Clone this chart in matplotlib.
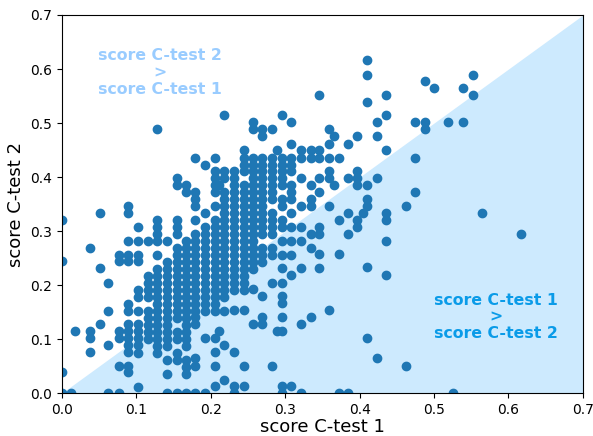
import numpy as np
import matplotlib
matplotlib.use('Agg')
import matplotlib.pyplot as plt

# score C-test 1 levels (columns) and the C-test 2 scores seen at each level
ctest1_levels = [0.000, 0.012, 0.018, 0.037, 0.051, 0.062, 0.076, 0.089, 0.102, 0.115,
                 0.128, 0.141, 0.154, 0.166, 0.179, 0.192, 0.205, 0.211, 0.218, 0.231,
                 0.244, 0.257, 0.269, 0.282, 0.289, 0.295, 0.308, 0.321, 0.334, 0.346,
                 0.359, 0.366, 0.372, 0.385, 0.397, 0.404, 0.410, 0.423, 0.436, 0.462,
                 0.475, 0.488, 0.500, 0.519, 0.526, 0.539, 0.552, 0.565, 0.617]

ctest2_by_level = [
    [0.320, 0.244, 0.038, 0.0],
    [0.0],
    [0.115],
    [0.269, 0.115, 0.102, 0.076],
    [0.334, 0.231, 0.128],
    [0.204, 0.152, 0.089, 0.0],
    [0.256, 0.244, 0.115, 0.102, 0.050, 0.0],
    [0.347, 0.334, 0.282, 0.256, 0.244, 0.165, 0.152, 0.128, 0.115, 0.102, 0.089, 0.076,
     0.050, 0.038],
    [0.308, 0.282, 0.256, 0.244, 0.191, 0.178, 0.152, 0.128, 0.115, 0.102, 0.089, 0.074,
     0.012],
    [0.282, 0.217, 0.204, 0.191, 0.178, 0.152, 0.139, 0.126, 0.113, 0.100],
    [0.488, 0.320, 0.307, 0.294, 0.282, 0.256, 0.230, 0.217, 0.204, 0.191, 0.178, 0.165,
     0.152, 0.139, 0.126, 0.113, 0.100, 0.087, 0.074],
    [0.282, 0.243, 0.230, 0.217, 0.204, 0.191, 0.178, 0.165, 0.152, 0.139, 0.126, 0.113,
     0.100, 0.087, 0.061, 0.035, 0.0],
    [0.398, 0.385, 0.320, 0.307, 0.294, 0.269, 0.256, 0.243, 0.230, 0.217, 0.204, 0.191,
     0.178, 0.165, 0.152, 0.139, 0.113, 0.100, 0.074, 0.061, 0.0],
    [0.385, 0.372, 0.282, 0.269, 0.256, 0.243, 0.230, 0.217, 0.204, 0.191, 0.178, 0.165,
     0.152, 0.139, 0.126, 0.113, 0.100, 0.087, 0.061, 0.049, 0.036, 0.0],
    [0.436, 0.372, 0.360, 0.346, 0.320, 0.294, 0.282, 0.269, 0.256, 0.243, 0.230, 0.217,
     0.204, 0.191, 0.178, 0.165, 0.152, 0.140, 0.128, 0.064, 0.050, 0.0],
    [0.423, 0.333, 0.307, 0.294, 0.282, 0.269, 0.256, 0.243, 0.230, 0.217, 0.204, 0.191,
     0.178, 0.165, 0.152, 0.102, 0.0],
    [0.436, 0.411, 0.398, 0.385, 0.372, 0.346, 0.320, 0.307, 0.294, 0.282, 0.269, 0.256,
     0.243, 0.230, 0.217, 0.204, 0.191, 0.178, 0.165, 0.152, 0.102, 0.076, 0.050, 0.013],
    [0.385, 0.115],
    [0.514, 0.411, 0.398, 0.372, 0.359, 0.346, 0.333, 0.320, 0.307, 0.294, 0.282, 0.269,
     0.256, 0.243, 0.230, 0.217, 0.204, 0.191, 0.178, 0.152, 0.089, 0.025],
    [0.411, 0.398, 0.385, 0.372, 0.359, 0.346, 0.333, 0.320, 0.307, 0.294, 0.282, 0.269,
     0.256, 0.243, 0.230, 0.217, 0.204, 0.191, 0.154, 0.076, 0.013, 0.0],
    [0.450, 0.436, 0.423, 0.411, 0.385, 0.372, 0.360, 0.346, 0.333, 0.320, 0.307, 0.294,
     0.282, 0.269, 0.256, 0.243, 0.230, 0.217, 0.204, 0.191, 0.154, 0.050, 0.013],
    [0.501, 0.488, 0.436, 0.423, 0.411, 0.398, 0.385, 0.372, 0.360, 0.346, 0.333, 0.320,
     0.307, 0.294, 0.282, 0.269, 0.256, 0.243, 0.230, 0.192, 0.128],
    [0.488, 0.476, 0.436, 0.423, 0.411, 0.398, 0.385, 0.372, 0.360, 0.346, 0.333, 0.320,
     0.307, 0.294, 0.269, 0.256, 0.243, 0.180, 0.140, 0.128],
    [0.488, 0.436, 0.423, 0.411, 0.398, 0.385, 0.372, 0.360, 0.333, 0.320, 0.307, 0.294,
     0.269, 0.256, 0.204, 0.050],
    [0.450, 0.115],
    [0.514, 0.436, 0.423, 0.411, 0.398, 0.385, 0.360, 0.346, 0.320, 0.307, 0.282, 0.256,
     0.231, 0.204, 0.180, 0.166, 0.140, 0.115, 0.013, 0.0],
    [0.501, 0.462, 0.436, 0.423, 0.411, 0.385, 0.372, 0.360, 0.333, 0.307, 0.282, 0.256,
     0.218, 0.013],
    [0.450, 0.436, 0.398, 0.346, 0.307, 0.282, 0.231, 0.128, 0.0],
    [0.450, 0.436, 0.385, 0.360, 0.347, 0.294, 0.269, 0.140],
    [0.552, 0.450, 0.436, 0.398, 0.372, 0.308, 0.295, 0.257, 0.231],
    [0.488, 0.462, 0.436, 0.411, 0.398, 0.347, 0.154],
    [0.476, 0.385],
    [0.436, 0.321, 0.257, 0.0],
    [0.462, 0.398, 0.333, 0.295, 0.0],
    [0.476, 0.411, 0.398, 0.385, 0.321, 0.308],
    [0.333],
    [0.617, 0.589, 0.539, 0.385, 0.360, 0.347, 0.233, 0.102],
    [0.501, 0.476, 0.398, 0.064],
    [0.552, 0.514, 0.450, 0.333, 0.321, 0.282, 0.218],
    [0.347, 0.050],
    [0.501, 0.436, 0.372],
    [0.578, 0.501, 0.488],
    [0.565],
    [0.501],
    [0.0],
    [0.565, 0.501],
    [0.589, 0.552],
    [0.333],
    [0.295],
]

score1 = []
score2 = []
for lvl, ys in zip(ctest1_levels, ctest2_by_level):
    for y in ys:
        score1.append(lvl)
        score2.append(y)

fig = plt.figure(figsize=(5.93, 4.36), dpi=100)
ax = fig.add_axes([0.1045, 0.0986, 0.8785, 0.867])

# area where C-test 1 > C-test 2
ax.fill_between([0, 0.7], [0, 0.7], 0, color='#cdeafe', linewidth=0, zorder=0)
ax.scatter(score1, score2, color='#1f77b4', s=36, zorder=2)

ax.text(0.132, 0.593, 'score C-test 2\n>\nscore C-test 1', ha='center', va='center',
        color='#99ccff', fontsize=11.3, fontweight='bold', linespacing=1.15)
ax.text(0.583, 0.141, 'score C-test 1\n>\nscore C-test 2', ha='center', va='center',
        color='#0a9be8', fontsize=11.3, fontweight='bold', linespacing=1.15)

ax.set_xlim(0, 0.7)
ax.set_ylim(0, 0.7)
ax.set_xlabel('score C-test 1', fontsize=13, labelpad=1)
ax.set_ylabel('score C-test 2', fontsize=13)

fig.savefig('out.png', dpi=100)
